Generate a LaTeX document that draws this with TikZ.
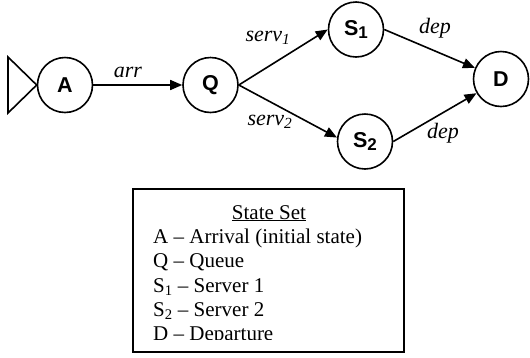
\documentclass[tikz,border=0pt]{standalone}
\usepackage{fontspec}
\setmainfont{Liberation Serif}
\newfontfamily\arialfont{Liberation Sans}
\usetikzlibrary{arrows.meta}
\newcommand{\nsub}[1]{\raisebox{-3pt}{\fontsize{17}{17}\selectfont #1}}
\begin{document}
\begin{tikzpicture}[x=1pt,y=-1pt,
  stnode/.style={circle,draw,line width=1.6pt,minimum size=55pt,inner sep=0pt,
    font=\arialfont\bfseries\fontsize{21.5}{22}\selectfont},
  arrline/.style={line width=1.6pt,-{Triangle[length=12pt,width=10pt]}},
  elabel/.style={font=\itshape\fontsize{22}{24}\selectfont,inner sep=0pt,anchor=base},
  legline/.style={font=\fontsize{21}{24}\selectfont,inner sep=0pt,anchor=base west}]
\useasboundingbox (0,0) rectangle (530,357);
% states
\node[stnode] (A) at (65,85) {A};
\node[stnode] (Q) at (210.5,85) {Q};
\node[stnode] (S1) at (356,29.5) {S\nsub{1}};
\node[stnode] (S2) at (365,141.5) {S\nsub{2}};
\node[stnode] (D) at (501,79) {D};
% initial marker
\coordinate (t1) at (8,57);
\coordinate (t2) at (8,113);
\draw[line width=1.6pt,line join=miter] (A.west) -- (t1) -- (t2) -- cycle;
% transitions
\draw[arrline] (A) -- (Q);
\draw[arrline] (Q.east) -- (S1.west);
\draw[arrline] (Q.east) -- (S2.172);
\draw[arrline] (S1.east) -- (D);
\draw[arrline] (S2.east) -- (D);
% labels
\node[elabel] (larr) at (128,77) {arr};
\node[elabel] (ls1) at (268,41) {serv\textsubscript{1}};
\node[elabel] (ls2) at (270,125) {serv\textsubscript{2}};
\node[elabel] (ld1) at (435,33) {dep};
\node[elabel] (ld2) at (443,138) {dep};
% legend
\begin{scope}
\clip (133,189) rectangle (404,339);
\node[font=\fontsize{21}{24}\selectfont,inner sep=0pt,anchor=base] (lt) at (269,219) {\underline{State Set}};
\node[legline] (l1) at (153,243) {A -- Arrival (initial state)};
\node[legline] (l2) at (153,267) {Q -- Queue};
\node[legline] (l3) at (153,292) {S\textsubscript{1} -- Server 1};
\node[legline] (l4) at (153,316) {S\textsubscript{2} -- Server 2};
\node[legline] (l5) at (153,340) {D -- Departure};
\end{scope}
\draw[line width=2pt] (133,189) rectangle (404,352);
\end{tikzpicture}
\end{document}
